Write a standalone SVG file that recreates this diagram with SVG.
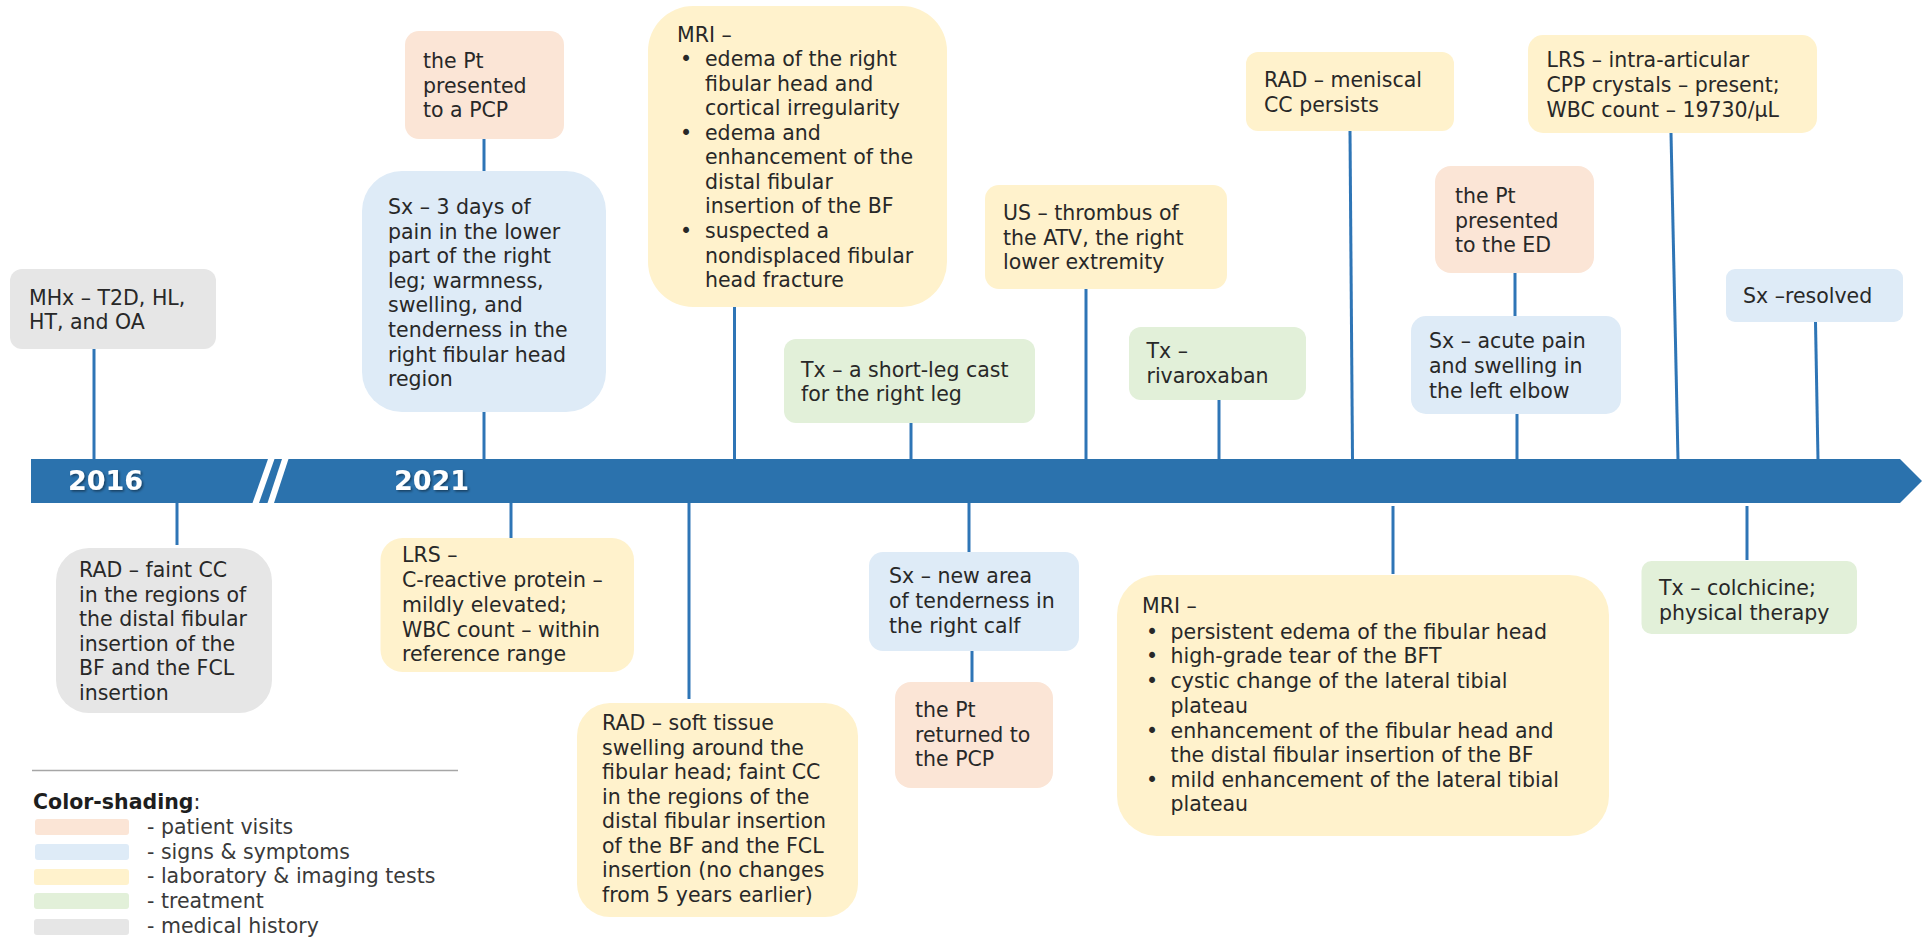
<svg xmlns="http://www.w3.org/2000/svg" width="1927" height="937" viewBox="0 0 1927 937">
<defs>
<style>
text{font-family:"DejaVu Sans","Liberation Sans",sans-serif;font-size:20.5px;fill:#282828}
.pk{fill:#FBE5D6}.bl{fill:#DEEBF7}.yl{fill:#FFF2CC}.gr{fill:#E2F0D9}.gy{fill:#E6E6E6}
.cn line{stroke:#2E75B6;stroke-width:3}
.yr{font-weight:bold;font-size:27px;fill:#fff}
.lg{fill:#3a3a3a}
</style>
<filter id="sh" x="-10%" y="-20%" width="130%" height="150%"><feDropShadow dx="1.5" dy="1.5" stdDeviation="1" flood-color="#000" flood-opacity="0.45"/></filter>
</defs>
<rect width="1927" height="937" fill="#fff"/>

<g id="connectors" class="cn">
<line x1="94" y1="349" x2="94" y2="460"/>
<line x1="484" y1="139" x2="484" y2="171"/>
<line x1="484" y1="412" x2="484" y2="460"/>
<line x1="734.5" y1="307" x2="734.5" y2="460"/>
<line x1="911" y1="423" x2="911" y2="460"/>
<line x1="1086" y1="289" x2="1086" y2="460"/>
<line x1="1219" y1="400" x2="1219" y2="460"/>
<line x1="1350" y1="131" x2="1352.5" y2="460"/>
<line x1="1671" y1="133" x2="1678" y2="460"/>
<line x1="1515" y1="273" x2="1515" y2="316"/>
<line x1="1517" y1="414" x2="1517" y2="460"/>
<line x1="1815.5" y1="322" x2="1818" y2="460"/>
<line x1="177" y1="502" x2="177" y2="545"/>
<line x1="511" y1="502" x2="511" y2="538"/>
<line x1="689" y1="502" x2="689" y2="699"/>
<line x1="969" y1="502" x2="969" y2="552"/>
<line x1="972" y1="651" x2="972" y2="682"/>
<line x1="1393" y1="506" x2="1393" y2="574"/>
<line x1="1747" y1="506" x2="1747" y2="560"/>
</g>

<g id="timeline">
<polygon points="31,459 1900,459 1922,481 1900,503 31,503" fill="#2B72AD"/>
<polygon points="268,459 274.5,459 259,503 252.5,503" fill="#fff"/>
<polygon points="282,459 288.5,459 274,503 267.5,503" fill="#fff"/>
<text class="yr" x="68" y="490" filter="url(#sh)">2016</text>
<text class="yr" x="394" y="490" filter="url(#sh)">2021</text>
</g>

<g id="n-mhx">
<rect class="gy" x="10" y="269" width="206" height="80" rx="12"/>
<text x="29" y="305">MHx – T2D, HL,<tspan x="29" y="329">HT, and OA</tspan></text>
</g>

<g id="n-pcp">
<rect class="pk" x="405" y="31" width="159" height="108" rx="14"/>
<text x="423" y="68">the Pt<tspan x="423" y="93">presented</tspan><tspan x="423" y="117">to a PCP</tspan></text>
</g>

<g id="n-sx1">
<rect class="bl" x="362" y="171" width="244" height="241" rx="40"/>
<text x="388" y="214">Sx – 3 days of<tspan x="388" y="238.6">pain in the lower</tspan><tspan x="388" y="263.2">part of the right</tspan><tspan x="388" y="287.8">leg; warmness,</tspan><tspan x="388" y="312.4">swelling, and</tspan><tspan x="388" y="337">tenderness in the</tspan><tspan x="388" y="361.6">right fibular head</tspan><tspan x="388" y="386.2">region</tspan></text>
</g>

<g id="n-mri1">
<rect class="yl" x="648" y="6" width="299" height="301" rx="45"/>
<text x="677" y="42">MRI –</text>
<text x="680" y="66">•</text><text x="680" y="140">•</text><text x="680" y="238">•</text>
<text x="705" y="66">edema of the right<tspan x="705" y="91">fibular head and</tspan><tspan x="705" y="115">cortical irregularity</tspan><tspan x="705" y="140">edema and</tspan><tspan x="705" y="164">enhancement of the</tspan><tspan x="705" y="189">distal fibular</tspan><tspan x="705" y="213">insertion of the BF</tspan><tspan x="705" y="238">suspected a</tspan><tspan x="705" y="263">nondisplaced fibular</tspan><tspan x="705" y="287">head fracture</tspan></text>
</g>

<g id="n-tx1">
<rect class="gr" x="784" y="339" width="251" height="84" rx="12"/>
<text x="801" y="377">Tx – a short-leg cast<tspan x="801" y="401">for the right leg</tspan></text>
</g>

<g id="n-us">
<rect class="yl" x="985" y="185" width="242" height="104" rx="14"/>
<text x="1003" y="220">US – thrombus of<tspan x="1003" y="245">the ATV, the right</tspan><tspan x="1003" y="269">lower extremity</tspan></text>
</g>

<g id="n-tx2">
<rect class="gr" x="1129" y="327" width="177" height="73" rx="12"/>
<text x="1146.5" y="358">Tx –<tspan x="1146.5" y="383">rivaroxaban</tspan></text>
</g>

<g id="n-rad3">
<rect class="yl" x="1246" y="52" width="208" height="79" rx="12"/>
<text x="1264" y="87">RAD – meniscal<tspan x="1264" y="112">CC persists</tspan></text>
</g>

<g id="n-lrs2">
<rect class="yl" x="1528" y="35" width="289" height="98" rx="15"/>
<text x="1546.5" y="67">LRS – intra-articular<tspan x="1546.5" y="92">CPP crystals – present;</tspan><tspan x="1546.5" y="117">WBC count – 19730/µL</tspan></text>
</g>

<g id="n-ed">
<rect class="pk" x="1435" y="166" width="159" height="107" rx="16"/>
<text x="1455" y="203">the Pt<tspan x="1455" y="228">presented</tspan><tspan x="1455" y="252">to the ED</tspan></text>
</g>

<g id="n-sx3">
<rect class="bl" x="1411" y="316" width="210" height="98" rx="15"/>
<text x="1429" y="348">Sx – acute pain<tspan x="1429" y="373">and swelling in</tspan><tspan x="1429" y="398">the left elbow</tspan></text>
</g>

<g id="n-sx4">
<rect class="bl" x="1726" y="269" width="177" height="53" rx="9"/>
<text x="1743" y="303">Sx –resolved</text>
</g>

<g id="n-rad1">
<rect class="gy" x="56" y="548" width="216" height="165" rx="33"/>
<text x="79" y="577">RAD – faint CC<tspan x="79" y="602">in the regions of</tspan><tspan x="79" y="626">the distal fibular</tspan><tspan x="79" y="651">insertion of the</tspan><tspan x="79" y="675">BF and the FCL</tspan><tspan x="79" y="700">insertion</tspan></text>
</g>

<g id="n-lrs1">
<rect class="yl" x="380.5" y="538" width="253.5" height="134" rx="22"/>
<text x="402" y="562">LRS –<tspan x="402" y="587">C-reactive protein –</tspan><tspan x="402" y="612">mildly elevated;</tspan><tspan x="402" y="637">WBC count – within</tspan><tspan x="402" y="661">reference range</tspan></text>
</g>

<g id="n-rad2">
<rect class="yl" x="577" y="703" width="281" height="214" rx="33"/>
<text x="602" y="730">RAD – soft tissue<tspan x="602" y="755">swelling around the</tspan><tspan x="602" y="779">fibular head; faint CC</tspan><tspan x="602" y="804">in the regions of the</tspan><tspan x="602" y="828">distal fibular insertion</tspan><tspan x="602" y="853">of the BF and the FCL</tspan><tspan x="602" y="877">insertion (no changes</tspan><tspan x="602" y="902">from 5 years earlier)</tspan></text>
</g>

<g id="n-sx2">
<rect class="bl" x="869" y="552" width="210" height="99" rx="14"/>
<text x="889" y="583">Sx – new area<tspan x="889" y="608">of tenderness in</tspan><tspan x="889" y="633">the right calf</tspan></text>
</g>

<g id="n-ret">
<rect class="pk" x="895" y="682" width="158" height="106" rx="16"/>
<text x="915" y="717">the Pt<tspan x="915" y="742">returned to</tspan><tspan x="915" y="766">the PCP</tspan></text>
</g>

<g id="n-mri2">
<rect class="yl" x="1117" y="575" width="492" height="261" rx="40"/>
<text x="1142" y="613">MRI –</text>
<text x="1146" y="639">•</text><text x="1146" y="663">•</text><text x="1146" y="688">•</text><text x="1146" y="738">•</text><text x="1146" y="787">•</text>
<text x="1170.6" y="639">persistent edema of the fibular head<tspan x="1170.6" y="663">high-grade tear of the BFT</tspan><tspan x="1170.6" y="688">cystic change of the lateral tibial</tspan><tspan x="1170.6" y="712.5">plateau</tspan><tspan x="1170.6" y="738">enhancement of the fibular head and</tspan><tspan x="1170.6" y="762">the distal fibular insertion of the BF</tspan><tspan x="1170.6" y="787">mild enhancement of the lateral tibial</tspan><tspan x="1170.6" y="811">plateau</tspan></text>
</g>

<g id="n-tx3">
<rect class="gr" x="1641.5" y="561" width="215.5" height="73" rx="10"/>
<text x="1659" y="595">Tx – colchicine;<tspan x="1659" y="620">physical therapy</tspan></text>
</g>

<g id="legend">
<line x1="32" y1="770.5" x2="458" y2="770.5" stroke="#A6A6A6" stroke-width="1.5"/>
<text x="33" y="809" fill="#1e1e1e"><tspan font-weight="bold" fill="#1e1e1e">Color-shading</tspan>:</text>
<rect class="pk" x="35" y="819" width="94" height="16" rx="3"/>
<rect class="bl" x="35" y="844" width="94" height="16" rx="3"/>
<rect class="yl" x="34" y="869" width="95" height="16" rx="3"/>
<rect class="gr" x="34" y="893" width="95" height="16" rx="3"/>
<rect class="gy" x="34" y="919" width="95" height="16" rx="3"/>
<text class="lg" x="147" y="834">- patient visits</text>
<text class="lg" x="147" y="859">- signs &amp; symptoms</text>
<text class="lg" x="147" y="883">- laboratory &amp; imaging tests</text>
<text class="lg" x="147" y="908">- treatment</text>
<text class="lg" x="147" y="933">- medical history</text>
</g>
</svg>
